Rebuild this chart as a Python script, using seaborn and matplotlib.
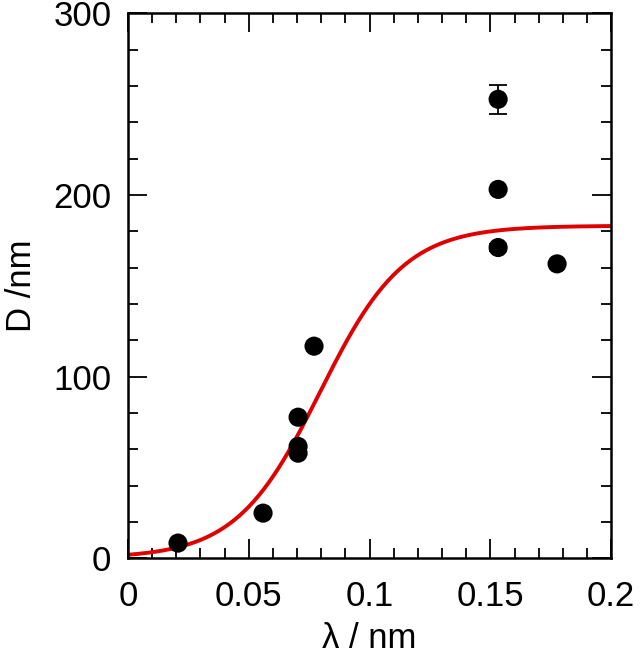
import numpy as np
import pandas as pd
import matplotlib
matplotlib.use("Agg")
import matplotlib.pyplot as plt
import seaborn as sns
from matplotlib.ticker import MultipleLocator, FuncFormatter

lam = [0.0207, 0.0559, 0.0704, 0.0704, 0.0704, 0.0770, 0.1532, 0.1532, 0.1532, 0.1776]
diam = [8.3, 24.8, 77.6, 61.5, 57.8, 116.7, 252.6, 203.0, 171.0, 162.0]
diam_err = [0, 0, 0, 0, 0, 0, 8.0, 0, 2.0, 0]

# logistic fit through the points (amplitude, centre, width)
fit_amp = 183.0
fit_x0 = 0.0795
fit_w = 0.01738

sns.set_theme(style="ticks", rc={"axes.labelcolor": "black", "text.color": "black",
                                 "xtick.color": "black", "ytick.color": "black"})
plt.rcParams['font.family'] = ['Liberation Sans', 'DejaVu Sans']

fig = plt.figure(figsize=(6.4, 6.59), dpi=100)
ax = fig.add_axes([0.2, 0.153, 0.755, 0.827])

pts = pd.DataFrame({"lam": lam, "D": diam, "err": diam_err})

xs = np.linspace(0, 0.2, 400)
curve = pd.DataFrame({"lam": xs, "D": fit_amp / (1 + np.exp(-(xs - fit_x0) / fit_w))})
sns.lineplot(data=curve, x="lam", y="D", color="#e00000", linewidth=2.8, ax=ax, zorder=2)

has_err = pts[pts["err"] > 0]
ax.errorbar(has_err["lam"], has_err["D"], yerr=has_err["err"], fmt="none",
            ecolor="black", elinewidth=1.3, capsize=6.5, capthick=1.3, zorder=3)
sns.scatterplot(data=pts, x="lam", y="D", color="black", s=190, edgecolor="none",
                ax=ax, zorder=4)

ax.set_xlim(0, 0.2)
ax.set_ylim(0, 300)
ax.xaxis.set_major_locator(MultipleLocator(0.05))
ax.xaxis.set_minor_locator(MultipleLocator(0.01))
ax.yaxis.set_major_locator(MultipleLocator(100))
ax.yaxis.set_minor_locator(MultipleLocator(20))
ax.xaxis.set_major_formatter(FuncFormatter(lambda v, p: f"{v:g}"))

ax.tick_params(which="both", direction="in", top=True, right=True,
               labelsize=25, width=1.3)
ax.tick_params(axis="x", pad=16)
ax.tick_params(axis="y", pad=12)
ax.tick_params(which="major", length=14)
ax.tick_params(which="minor", length=7)
for sp in ax.spines.values():
    sp.set_linewidth(1.8)
    sp.set_color("black")

ax.set_xlabel("λ / nm", fontsize=25, labelpad=6)
ax.set_ylabel("D /nm", fontsize=25, labelpad=11)

plt.savefig("out.png", dpi=100)
plt.close()
